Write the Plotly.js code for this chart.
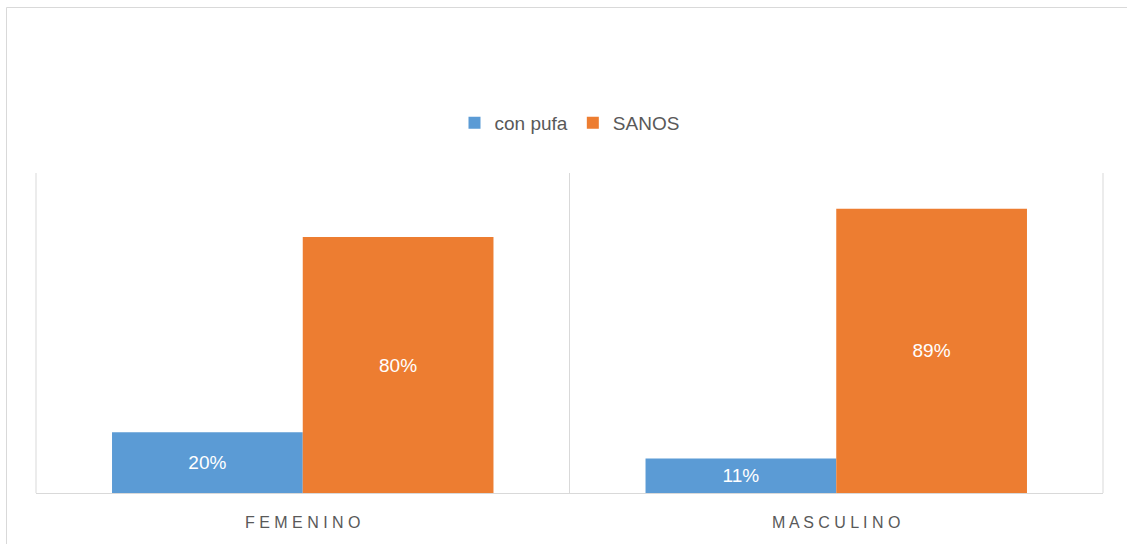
<!DOCTYPE html>
<html>
<head>
<meta charset="utf-8">
<script src="https://cdn.plot.ly/plotly-3.0.1.min.js"></script>
<style>
  html, body { margin: 0; padding: 0; background: #ffffff; }
  #chart { width: 1127px; height: 544px; }
</style>
</head>
<body>
<div id="chart"></div>
<script>
// Data
const categories = ["FEMENINO", "MASCULINO"];
const categoryLabels = ["F E M E N I N O", "M A S C U L I N O"];
const seriesNames = ["con pufa", "SANOS"];
const conPufaValues = [0.19, 0.108];
const sanosValues = [0.80, 0.888];
const conPufaLabels = ["20%", "11%"];
const sanosLabels = ["80%", "89%"];

const W = 1127, H = 544;
const M = { l: 36, r: 24, t: 173, b: 51 };
const pw = W - M.l - M.r, ph = H - M.t - M.b;

const labelFont = { family: "Liberation Sans, Arial, sans-serif", size: 19, color: "#ffffff" };

const traces = [
  {
    type: "bar", name: seriesNames[0], x: categories, y: conPufaValues,
    marker: { color: "#5B9BD5" },
    text: conPufaLabels, textposition: "inside", insidetextanchor: "middle",
    textfont: labelFont, constraintext: "none", hoverinfo: "skip", cliponaxis: false
  },
  {
    type: "bar", name: seriesNames[1], x: categories, y: sanosValues,
    marker: { color: "#ED7D31" },
    text: sanosLabels, textposition: "inside", insidetextanchor: "middle",
    textfont: labelFont, constraintext: "none", hoverinfo: "skip", cliponaxis: false
  }
];

const gridLine = { color: "#D9D9D9", width: 1 };

const layout = {
  width: W, height: H,
  margin: M,
  paper_bgcolor: "#ffffff", plot_bgcolor: "#ffffff",
  barmode: "group", bargap: 0.285, bargroupgap: 0,
  showlegend: true,
  legend: {
    orientation: "h", x: 0.5, xanchor: "center",
    y: (493 - 123) / ph, yanchor: "middle",
    font: { family: "Liberation Sans, Arial, sans-serif", size: 19, color: "#595959" },
    itemclick: false, traceorder: "normal"
  },
  xaxis: {
    type: "category",
    tickvals: categories, ticktext: categoryLabels,
    tickson: "boundaries", showgrid: true, gridcolor: "#D9D9D9", gridwidth: 1,
    showline: true, linecolor: "#D9D9D9", linewidth: 1,
    ticks: "", zeroline: false,
    tickfont: { family: "Liberation Sans, Arial, sans-serif", size: 16, color: "#595959" },
    ticklabelstandoff: 15
  },
  yaxis: {
    range: [0, 1], visible: false, showgrid: false, zeroline: false, fixedrange: true
  },
  shapes: [
    {
      type: "rect", xref: "paper", yref: "paper",
      x0: (6.5 - M.l) / pw, x1: (W + 20 - M.l) / pw,
      y0: -(H + 20 - 493) / ph, y1: (493 - 7.5) / ph,
      line: gridLine, fillcolor: "rgba(0,0,0,0)", layer: "below"
    },
    { type: "line", xref: "paper", yref: "paper", x0: 0, x1: 0, y0: 0, y1: 1, line: gridLine, layer: "below" },
    { type: "line", xref: "paper", yref: "paper", x0: 1, x1: 1, y0: 0, y1: 1, line: gridLine, layer: "below" }
  ]
};

Plotly.newPlot("chart", traces, layout, { staticPlot: true, displayModeBar: false });
</script>
</body>
</html>
